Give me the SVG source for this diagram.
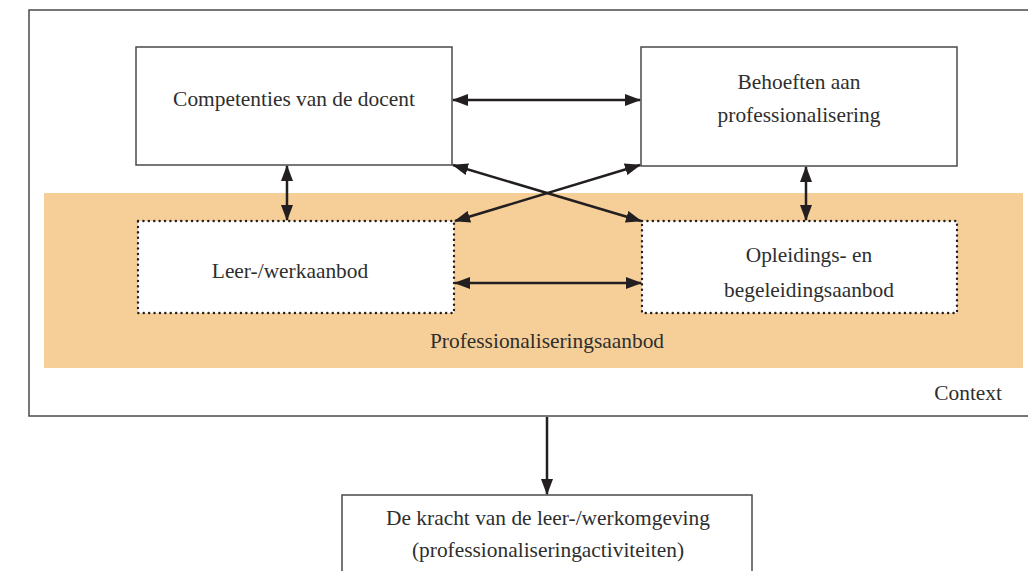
<svg xmlns="http://www.w3.org/2000/svg" width="1028" height="571" viewBox="0 0 1028 571">
<defs>
<style>
.box{fill:#fff;stroke:#4a4a4a;stroke-width:1.5}
.dot{fill:#fff;stroke:#231f20;stroke-width:2.4;stroke-dasharray:0.1 5.3;stroke-linecap:round}
.t{font-family:"Liberation Serif",serif;font-size:21.4px;fill:#2e2e2e;text-anchor:middle}
.c{stroke:#231f20;stroke-width:2.5;fill:none}
</style>
<marker id="ah" viewBox="0 0 16 12" refX="15" refY="6" markerWidth="16" markerHeight="12" markerUnits="userSpaceOnUse" orient="auto-start-reverse">
<path d="M0,0 L16,6 L0,12 Z" fill="#231f20"/>
</marker>
</defs>
<g id="context">
<rect x="29" y="10" width="1010" height="406" fill="#fff" stroke="#4a4a4a" stroke-width="1.5"/>
<text class="t" x="1002" y="400" style="text-anchor:end">Context</text>
</g>
<g id="aanbod">
<rect x="44" y="193" width="979" height="175" fill="#f6cf98"/>
<text class="t" x="547" y="348">Professionaliseringsaanbod</text>
</g>
<g id="competenties">
<rect class="box" x="136" y="47" width="316" height="118"/>
<text class="t" x="294" y="106">Competenties van de docent</text>
</g>
<g id="behoeften">
<rect class="box" x="641" y="47" width="316" height="119"/>
<text class="t" x="799" y="89">Behoeften aan</text>
<text class="t" x="799" y="122">professionalisering</text>
</g>
<g id="leer">
<rect class="dot" x="138" y="221" width="316" height="92"/>
<text class="t" x="290" y="278">Leer-/werkaanbod</text>
</g>
<g id="opleidings">
<rect class="dot" x="642" y="221" width="315" height="92"/>
<text class="t" x="809" y="262">Opleidings- en</text>
<text class="t" x="809" y="297">begeleidingsaanbod</text>
</g>
<g id="kracht">
<rect class="box" x="342" y="495" width="410" height="90"/>
<text class="t" x="548" y="525">De kracht van de leer-/werkomgeving</text>
<text class="t" x="548" y="557">(professionaliseringactiviteiten)</text>
</g>
<g id="connectors">
<line class="c" x1="453" y1="100" x2="640" y2="100" marker-start="url(#ah)" marker-end="url(#ah)"/>
<line class="c" x1="455" y1="283" x2="641" y2="283" marker-start="url(#ah)" marker-end="url(#ah)"/>
<line class="c" x1="287" y1="166" x2="287" y2="220" marker-start="url(#ah)" marker-end="url(#ah)"/>
<line class="c" x1="806" y1="167" x2="806" y2="220" marker-start="url(#ah)" marker-end="url(#ah)"/>
<line class="c" x1="453" y1="165" x2="641" y2="221" marker-start="url(#ah)" marker-end="url(#ah)"/>
<line class="c" x1="640" y1="165" x2="455" y2="221" marker-start="url(#ah)" marker-end="url(#ah)"/>
<line class="c" x1="547" y1="417" x2="547" y2="494" marker-end="url(#ah)"/>
</g>
</svg>
